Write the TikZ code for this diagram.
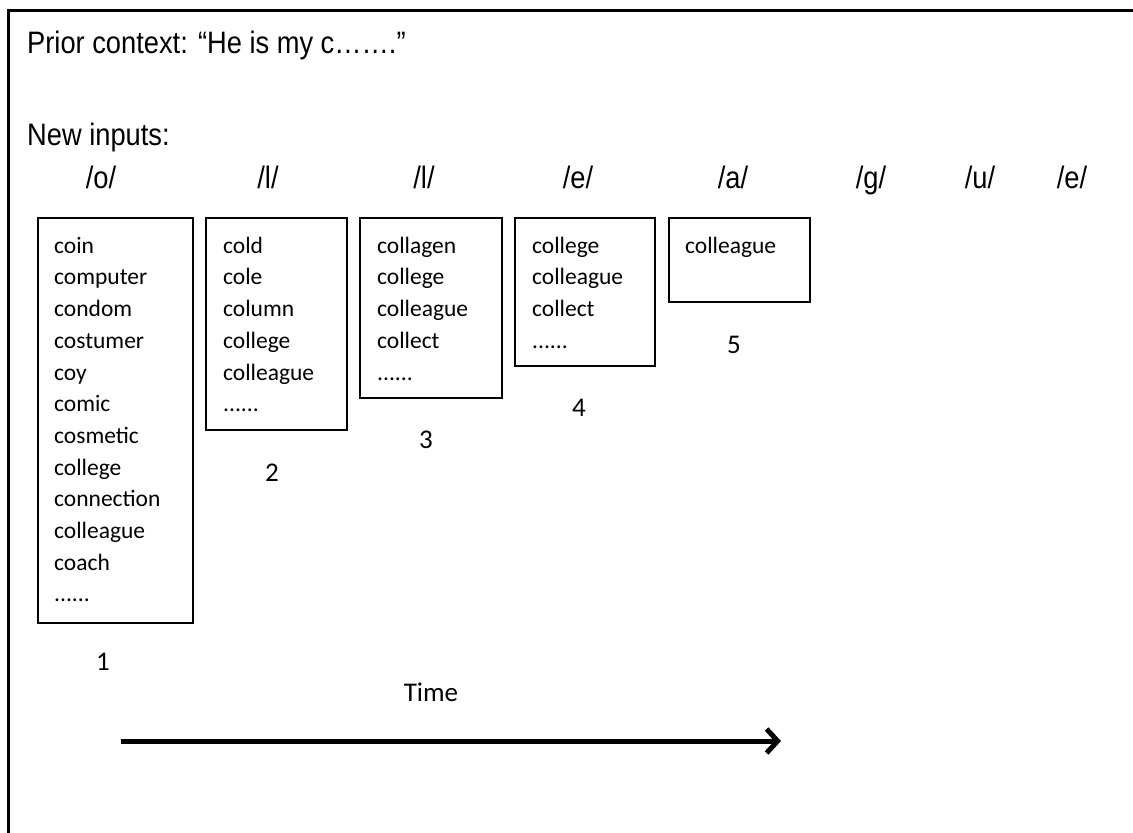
\documentclass[tikz,border=0pt]{standalone}
\usepackage{fontspec}
\setmainfont{Carlito}
\newfontfamily\helv[FakeStretch=0.88]{Liberation Sans}
\usetikzlibrary{arrows.meta}
\tikzset{
  head/.style={font=\helv\fontsize{31}{36}\selectfont, inner sep=0pt},
  phon/.style={font=\helv\fontsize{31}{36}\selectfont, inner sep=0pt, anchor=base},
  wbox/.style={draw, line width=2pt, anchor=north west, inner sep=0pt},
  words/.style={font=\fontsize{23.5}{31.7}\selectfont, align=left, anchor=north west, inner sep=0pt},
  num/.style={font=\fontsize{27}{32}\selectfont, inner sep=0pt},
}
\newcommand{\fs}{\rule{0pt}{20pt}}
\begin{document}
\begin{tikzpicture}[x=1pt,y=-1pt]
\useasboundingbox (0,0) rectangle (1133,833);
\fill[white] (0,0) rectangle (1133,833);
\draw[line width=3pt] (1133,10.5) -- (8.5,10.5) -- (8.5,833);

\node[head, anchor=base west] (prior) at (27,53) {Prior context: “He is my c…….”};
\node[head, anchor=base west] (new) at (27,145) {New inputs:};

\node[phon] (p1) at (101,188) {/o/};
\node[phon] (p2) at (268,188) {/l/};
\node[phon] (p3) at (424,188) {/l/};
\node[phon] (p4) at (578,188) {/e/};
\node[phon] (p5) at (733,188) {/a/};
\node[phon] (p6) at (871,188) {/g/};
\node[phon] (p7) at (980,188) {/u/};
\node[phon] (p8) at (1072,188) {/e/};

\node[wbox, minimum width=155pt, minimum height=405pt] (b1) at (37,217) {};
\node[wbox, minimum width=141pt, minimum height=212pt] (b2) at (205,217) {};
\node[wbox, minimum width=142pt, minimum height=180pt] (b3) at (359,217) {};
\node[wbox, minimum width=140pt, minimum height=148pt] (b4) at (514,217) {};
\node[wbox, minimum width=141pt, minimum height=84pt] (b5) at (668,217) {};

\node[words] (w1) at (54,233) {\fs coin\\computer\\condom\\costumer\\coy\\comic\\cosmetic\\college\\connection\\colleague\\coach\\......};
\node[words] (w2) at (223,233) {\fs cold\\cole\\column\\college\\colleague\\......};
\node[words] (w3) at (377,233) {\fs collagen\\college\\colleague\\collect\\......};
\node[words] (w4) at (532,233) {\fs college\\colleague\\collect\\......};
\node[words] (w5) at (685,233) {\fs colleague};

\node[num] (n1) at (103,662) {1};
\node[num] (n2) at (272,473) {2};
\node[num] (n3) at (426,440) {3};
\node[num] (n4) at (579,408) {4};
\node[num] (n5) at (734,345) {5};

\node[font=\fontsize{27}{32}\selectfont, inner sep=0pt] (time) at (431,692) {Time};
\coordinate (a0) at (121,741);
\coordinate (a1) at (781,741);
\draw[line width=5pt, -{Straight Barb[length=11pt,width=24pt]}] (a0) -- (a1);
\end{tikzpicture}
\end{document}
